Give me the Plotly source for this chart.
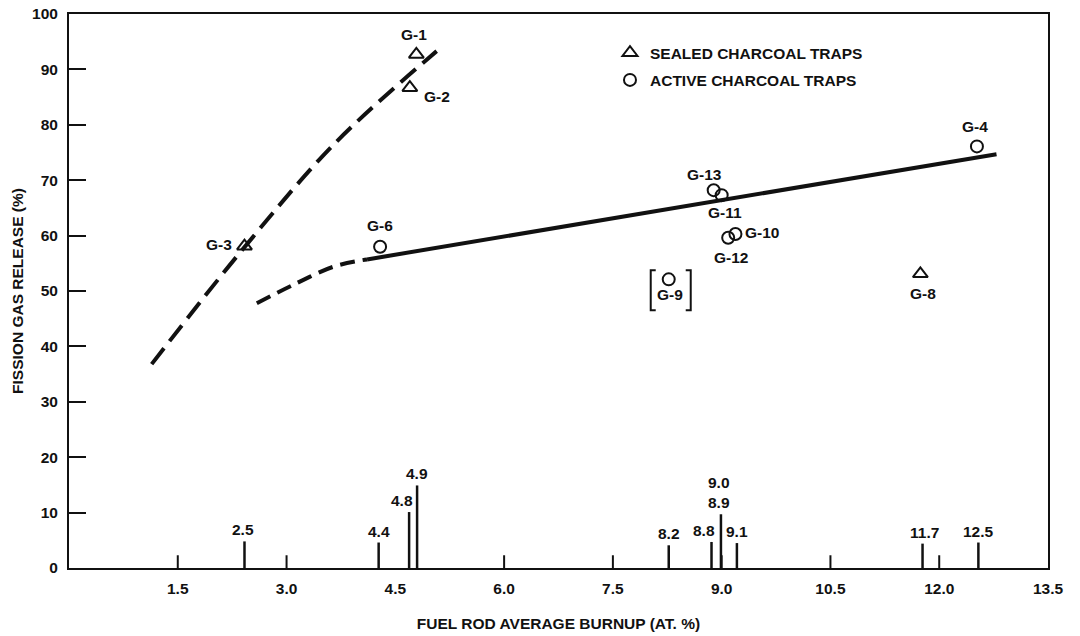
import plotly.graph_objects as go

# ---------------- data ----------------
sealed_ids = ["G-1", "G-2", "G-3", "G-8"]
sealed_burnup = [4.79, 4.70, 2.42, 11.74]
sealed_release = [92.7, 86.7, 58.1, 53.1]

active_ids = ["G-6", "G-4", "G-13", "G-11", "G-10", "G-12", "G-9"]
active_burnup = [4.29, 12.52, 8.89, 9.00, 9.19, 9.09, 8.27]
active_release = [58.0, 76.1, 68.2, 67.3, 60.3, 59.6, 52.1]

# fitted curves (hand-drawn in the original)
sealed_curve_x = [1.14, 2.40, 3.67, 5.07]
sealed_curve_y = [36.8, 57.6, 76.7, 93.3]
active_dash_x = [2.59, 3.09, 3.65, 4.11]
active_dash_y = [47.8, 51.1, 54.4, 55.7]
active_solid_x = [4.11, 12.79]
active_solid_y = [55.7, 74.7]

# burnup distribution marks along the x axis
rod_burnup = [2.42, 4.27, 4.69, 4.80, 8.27, 8.86, 8.99, 9.21, 11.77, 12.54]
rod_height = [4.8, 4.6, 10.1, 14.9, 4.1, 4.7, 9.7, 4.5, 4.4, 4.6]
rod_labels = ["2.5", "4.4", "4.8", "4.9", "8.2", "8.8", "9.0<br>8.9", "9.1", "11.7", "12.5"]

x_ticks = [1.5, 3.0, 4.5, 6.0, 7.5, 9.0, 10.5, 12.0, 13.5]
x_tick_text = ["1.5", "3.0", "4.5", "6.0", "7.5", "9.0", "10.5", "12.0", "13.5"]
x_tick_marks = [1.5, 3.0, 6.0, 7.5, 9.0, 10.5, 12.0]   # drawn marks (4.5 coincides with 4.4 rod)
y_ticks = [0, 10, 20, 30, 40, 50, 60, 70, 80, 90, 100]

# ---------------- styles ----------------
INK = "#111111"
FONT = "Liberation Sans, Arial, sans-serif"
FS = 15.5
TICK_MARK_H = 2.3

# label offsets (pixels) for point labels: (dx, dy-up)
sealed_lbl_off = [(-2, 20), (27, -9), (-25, 2), (3, -20)]
active_lbl_off = [(0, 21), (-2, 20), (-9, 16), (3, -17), (27, 1), (3, -20), (1, -15)]
rod_lbl_dx = [-1, 0, -7, 0, 0, -8, -2, 0, 2, 0]

fig = go.Figure()

# curves
fig.add_trace(go.Scatter(x=sealed_curve_x, y=sealed_curve_y, mode="lines",
                         line=dict(color=INK, width=4, dash="20px,9px", shape="spline"),
                         showlegend=False, hoverinfo="skip"))
fig.add_trace(go.Scatter(x=active_dash_x, y=active_dash_y, mode="lines",
                         line=dict(color=INK, width=4, dash="15px,8px", shape="spline"),
                         showlegend=False, hoverinfo="skip"))
fig.add_trace(go.Scatter(x=active_solid_x, y=active_solid_y, mode="lines",
                         line=dict(color=INK, width=4),
                         showlegend=False, hoverinfo="skip"))

# burnup marks
mx, my = [], []
for bx, h in zip(rod_burnup, rod_height):
    mx += [bx, bx, None]
    my += [0, h, None]
fig.add_trace(go.Scatter(x=mx, y=my, mode="lines", line=dict(color=INK, width=2.5),
                         showlegend=False, hoverinfo="skip"))

# x tick marks
tx, ty = [], []
for t in x_tick_marks:
    tx += [t, t, None]
    ty += [0, TICK_MARK_H, None]
fig.add_trace(go.Scatter(x=tx, y=ty, mode="lines", line=dict(color=INK, width=2),
                         showlegend=False, hoverinfo="skip"))

# data points
fig.add_trace(go.Scatter(x=sealed_burnup, y=sealed_release, mode="markers",
                         name="SEALED CHARCOAL TRAPS", legendgroup="a",
                         marker=dict(symbol="triangle-up-open", size=13, color=INK,
                                     line=dict(width=2, color=INK))))
fig.add_trace(go.Scatter(x=active_burnup, y=active_release, mode="markers",
                         name="ACTIVE CHARCOAL TRAPS", legendgroup="b",
                         marker=dict(symbol="circle-open", size=12, color=INK,
                                     line=dict(width=2, color=INK))))

annots = []
for (lbl, bx, by, (dx, dy)) in zip(sealed_ids, sealed_burnup, sealed_release, sealed_lbl_off):
    annots.append(dict(x=bx, y=by, text=lbl, showarrow=False, xshift=dx, yshift=dy,
                       xanchor="center", yanchor="middle"))
for (lbl, bx, by, (dx, dy)) in zip(active_ids, active_burnup, active_release, active_lbl_off):
    annots.append(dict(x=bx, y=by, text=lbl, showarrow=False, xshift=dx, yshift=dy,
                       xanchor="center", yanchor="middle"))
for (lbl, bx, h, dx) in zip(rod_labels, rod_burnup, rod_height, rod_lbl_dx):
    annots.append(dict(x=bx, y=h, text=lbl, showarrow=False, xshift=dx, yshift=1,
                       xanchor="center", yanchor="bottom"))

# brackets around G-9
g9 = active_ids.index("G-9")
shapes = []
for path in ["M -13 9 L -18 9 L -18 -31 L -13 -31", "M 17 9 L 22 9 L 22 -31 L 17 -31"]:
    shapes.append(dict(type="path", xref="x", yref="y", xsizemode="pixel", ysizemode="pixel",
                       xanchor=active_burnup[g9], yanchor=active_release[g9], path=path,
                       line=dict(color=INK, width=2)))

fig.update_layout(
    width=1080, height=636,
    margin=dict(l=69, r=32, t=14, b=68, pad=0),
    paper_bgcolor="white", plot_bgcolor="white",
    font=dict(family=FONT, size=FS, color=INK, weight="bold"),
    annotations=annots, shapes=shapes,
    showlegend=True,
    legend=dict(x=0.5526, y=0.960, xanchor="left", yanchor="top",
                bgcolor="rgba(0,0,0,0)", borderwidth=0, tracegroupgap=4,
                font=dict(family=FONT, size=FS, color=INK, weight="bold")),
    xaxis=dict(range=[0, 13.5], tickvals=x_ticks, ticktext=x_tick_text,
               ticks="", automargin=False,
               showline=True, linewidth=2, linecolor=INK, mirror=True,
               showgrid=False, zeroline=False, ticklabelstandoff=5,
               title=dict(text="FUEL ROD AVERAGE BURNUP (AT. %)", standoff=23,
                          font=dict(size=FS, family=FONT, color=INK, weight="bold"))),
    yaxis=dict(range=[0, 100], tickvals=y_ticks, automargin=False,
               ticks="inside", ticklen=17, tickwidth=2, tickcolor=INK,
               showline=True, linewidth=2, linecolor=INK, mirror=True,
               showgrid=False, zeroline=False, ticklabelstandoff=6,
               title=dict(text="FISSION GAS RELEASE (%)", standoff=5,
                          font=dict(size=FS, family=FONT, color=INK, weight="bold"))),
)

fig.write_html("out.html", config={"displayModeBar": False},
               post_script="document.body.style.margin='0';")
